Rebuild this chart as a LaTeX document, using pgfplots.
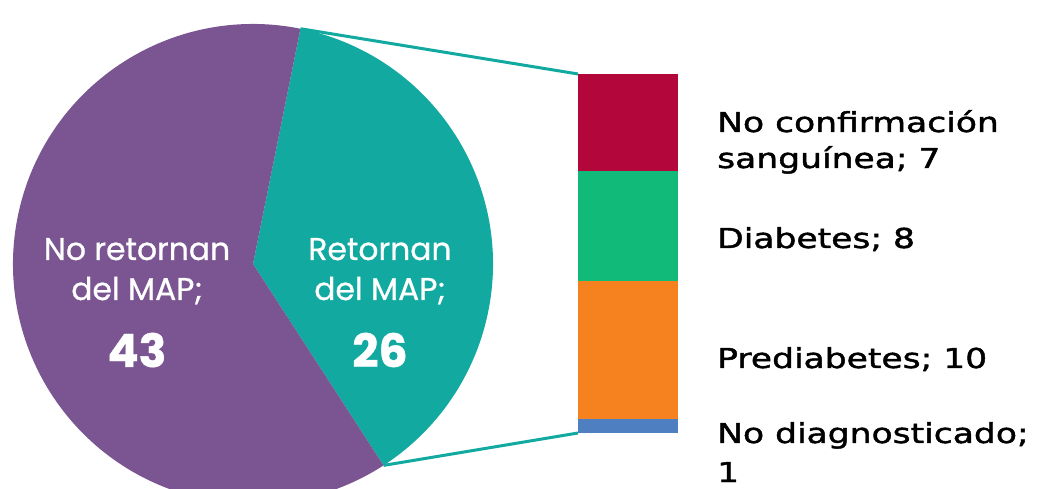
\documentclass[border=0pt]{standalone}
\usepackage{fontspec}
\usepackage{pgfplots}
\pgfplotsset{compat=1.18}
\newfontfamily\rfont[FakeStretch=1.26,FakeBold=1.6]{DejaVu Sans}
\newfontfamily\pfont[FakeBold=0.8]{Poppins}
\definecolor{cPur}{HTML}{7B5592}
\definecolor{cTeal}{HTML}{12A9A0}
\definecolor{cRed}{HTML}{B3073B}
\definecolor{cGreen}{HTML}{12BA7A}
\definecolor{cOrange}{HTML}{F5821F}
\definecolor{cBlue}{HTML}{4E7FC0}
% pie values
\def\vNo{43}
\def\vSi{26}
\begin{document}
\begin{tikzpicture}
\path[use as bounding box] (0,0) rectangle (1037bp,489bp);
\pgfmathsetmacro{\tot}{\vNo+\vSi}
\pgfmathsetmacro{\aS}{78.6}
\pgfmathsetmacro{\aE}{\aS-360*\vSi/\tot}
\pgfmathsetmacro{\aEE}{\aE+360}
\begin{axis}[at={(0,0)}, anchor=south west, width=1037bp, height=489bp, scale only axis,
  xmin=0, xmax=1037, ymin=0, ymax=489, hide axis, clip=true]
\fill[cTeal] (axis cs:253,225) -- (axis cs:{253+240*cos(\aS)},{225+240*sin(\aS)}) arc[start angle=\aS, end angle=\aE, radius=240bp] -- cycle;
\fill[cPur] (axis cs:253,225) -- (axis cs:{253+240*cos(\aS)},{225+240*sin(\aS)}) arc[start angle=\aS, end angle=\aEE, radius=240bp] -- cycle;
\draw[cTeal, line width=3bp] (axis cs:{253+240*cos(\aS)},{225+240*sin(\aS)}) -- (axis cs:578,415);
\draw[cTeal, line width=3bp] (axis cs:{253+240*cos(\aE)},{225+240*sin(\aE)}) -- (axis cs:578,56);
\coordinate (barSW) at (axis cs:578,56);
% pie labels
\node[anchor=base, text=white, font=\pfont\fontsize{31.5}{38}\selectfont, inner sep=0pt] at (axis cs:137,229) {No retornan};
\node[anchor=base, text=white, font=\pfont\fontsize{31.5}{38}\selectfont, inner sep=0pt] at (axis cs:137,189) {del MAP;};
\node[anchor=base, text=white, font=\pfont\bfseries\fontsize{46}{50}\selectfont, inner sep=0pt] at (axis cs:137,122) {43};
\node[anchor=base, text=white, font=\pfont\fontsize{31.5}{38}\selectfont, inner sep=0pt] at (axis cs:380,229) {Retornan};
\node[anchor=base, text=white, font=\pfont\fontsize{31.5}{38}\selectfont, inner sep=0pt] at (axis cs:380,189) {del MAP;};
\node[anchor=base, text=white, font=\pfont\bfseries\fontsize{46}{50}\selectfont, inner sep=0pt] at (axis cs:380,122) {26};
% bar labels
\node[anchor=base west, inner sep=0pt, font=\rfont\fontsize{27.5}{33}\selectfont] at (axis cs:717,357) {No confirmación};
\node[anchor=base west, inner sep=0pt, font=\rfont\fontsize{27.5}{33}\selectfont] at (axis cs:717,321) {sanguínea; 7};
\node[anchor=base west, inner sep=0pt, font=\rfont\fontsize{27.5}{33}\selectfont] at (axis cs:717,241) {Diabetes; 8};
\node[anchor=base west, inner sep=0pt, font=\rfont\fontsize{27.5}{33}\selectfont] at (axis cs:717,121) {Prediabetes; 10};
\node[anchor=base west, inner sep=0pt, font=\rfont\fontsize{27.5}{33}\selectfont] at (axis cs:717,46) {No diagnosticado;};
\node[anchor=base west, inner sep=0pt, font=\rfont\fontsize{27.5}{33}\selectfont] at (axis cs:717,7) {1};
\end{axis}
\begin{axis}[at={(barSW)}, anchor=south west, width=100bp, height=359bp, scale only axis,
  hide axis, xmin=-0.5, xmax=0.5, ymin=0, ymax=26, ybar stacked, bar width=100bp, clip=false]
\addplot[fill=cBlue, draw=none] coordinates {(0,1)};
\addplot[fill=cOrange, draw=none] coordinates {(0,10)};
\addplot[fill=cGreen, draw=none] coordinates {(0,8)};
\addplot[fill=cRed, draw=none] coordinates {(0,7)};
\end{axis}
\end{tikzpicture}
\end{document}
